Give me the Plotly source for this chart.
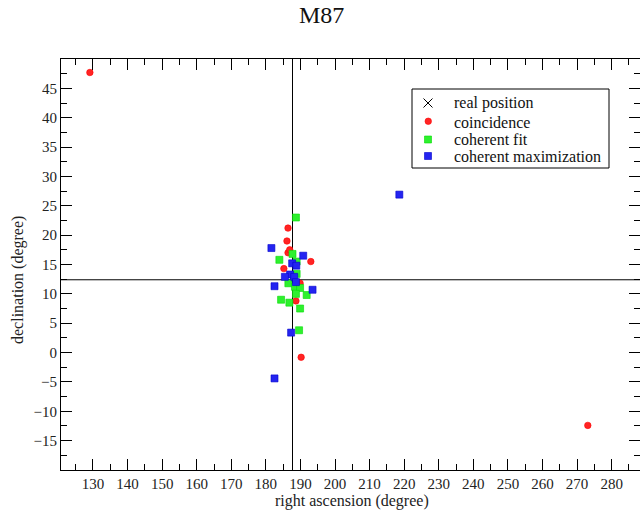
import plotly.graph_objects as go

# Data (degrees)
real_ra = [187.7]
real_dec = [12.4]

coin_ra = [129.1, 186.4, 186.1, 186.4, 186.9, 193.0, 185.2, 189.9, 188.7, 190.2, 273.1]
coin_dec = [47.7, 21.2, 19.0, 17.0, 17.5, 15.5, 14.3, 11.8, 8.8, -0.8, -12.4]

fit_ra = [188.7, 187.7, 183.9, 188.9, 188.9, 186.5, 188.4, 189.9, 188.7, 191.8, 184.4, 186.8, 189.9, 189.6]
fit_dec = [23.0, 16.8, 15.8, 15.5, 13.4, 11.8, 11.2, 11.0, 10.0, 9.8, 9.0, 8.5, 7.5, 3.8]

max_ra = [181.6, 190.8, 187.6, 188.8, 187.0, 185.5, 188.2, 188.7, 182.5, 193.5, 187.3, 182.5, 218.6]
max_dec = [17.8, 16.5, 15.2, 14.8, 13.3, 12.9, 12.9, 12.0, 11.3, 10.7, 3.4, -4.4, 26.9]

x_ticks = list(range(130, 281, 10))
y_ticks = list(range(-15, 46, 5))
legend_labels = ["real position", "coincidence", "coherent fit", "coherent maximization"]

FONT = "Liberation Serif, Times New Roman, serif"
RED, GREEN, BLUE = "#ff2424", "#2ef02e", "#2424f0"

# plot-area geometry (pixels) used for placing the hand-drawn legend
L, R, T, B = 61, 640, 59, 470
def px(xp):
    return (xp - L) / (R - L)
def py(yp):
    return (B - yp) / (B - T)

fig = go.Figure()
fig.add_trace(go.Scatter(x=real_ra, y=real_dec, mode="markers", name=legend_labels[0],
                         marker=dict(symbol="x-thin-open", size=11, color="black",
                                     line=dict(width=1.2, color="black"))))
fig.add_trace(go.Scatter(x=coin_ra, y=coin_dec, mode="markers", name=legend_labels[1],
                         marker=dict(symbol="circle", size=6.5, color=RED,
                                     line=dict(width=0.6, color="#ff0000"))))
fig.add_trace(go.Scatter(x=fit_ra, y=fit_dec, mode="markers", name=legend_labels[2],
                         marker=dict(symbol="square", size=7, color=GREEN,
                                     line=dict(width=0.6, color="#00dd00"))))
fig.add_trace(go.Scatter(x=max_ra, y=max_dec, mode="markers", name=legend_labels[3],
                         marker=dict(symbol="square", size=7, color=BLUE,
                                     line=dict(width=0.6, color="#0000cc"))))

shapes = [
    # crosshair through the real position
    dict(type="line", xref="x", yref="paper", x0=real_ra[0], x1=real_ra[0], y0=0, y1=1,
         line=dict(color="black", width=1), layer="below"),
    dict(type="line", xref="paper", yref="y", x0=0, x1=1, y0=real_dec[0], y1=real_dec[0],
         line=dict(color="black", width=1), layer="below"),
    # legend box
    dict(type="rect", xref="paper", yref="paper", x0=px(412), x1=px(609), y0=py(168), y1=py(89),
         line=dict(color="black", width=1), fillcolor="white", layer="above"),
    # legend symbols
    dict(type="line", xref="paper", yref="paper", x0=px(423.5), x1=px(432.5), y0=py(98.5), y1=py(107.5),
         line=dict(color="black", width=1), layer="above"),
    dict(type="line", xref="paper", yref="paper", x0=px(423.5), x1=px(432.5), y0=py(107.5), y1=py(98.5),
         line=dict(color="black", width=1), layer="above"),
    dict(type="circle", xref="paper", yref="paper", x0=px(425), x1=px(431.5), y0=py(124.5), y1=py(118),
         line=dict(color="#ff0000", width=0.6), fillcolor=RED, layer="above"),
    dict(type="rect", xref="paper", yref="paper", x0=px(424.5), x1=px(431.5), y0=py(143), y1=py(136),
         line=dict(color="#00dd00", width=0.6), fillcolor=GREEN, layer="above"),
    dict(type="rect", xref="paper", yref="paper", x0=px(424.5), x1=px(431.5), y0=py(159.5), y1=py(152.5),
         line=dict(color="#0000cc", width=0.6), fillcolor=BLUE, layer="above"),
]

legend_rows = [103, 122, 139, 156]
annotations = [
    dict(text="right ascension (degree)", xref="paper", yref="paper", x=px(352), y=py(501),
         xanchor="center", yanchor="middle", showarrow=False,
         font=dict(family=FONT, size=16, color="#222")),
    dict(text="declination (degree)", xref="paper", yref="paper", x=px(18), y=py(280),
         xanchor="center", yanchor="middle", textangle=-90, showarrow=False,
         font=dict(family=FONT, size=16, color="#222")),
]
for lab, row in zip(legend_labels, legend_rows):
    annotations.append(dict(text=lab, xref="paper", yref="paper", x=px(452), y=py(row),
                            xanchor="left", yanchor="middle", showarrow=False,
                            font=dict(family=FONT, size=16, color="#111")))

axis_common = dict(showgrid=False, zeroline=False, showline=True, linecolor="black", linewidth=1,
                   mirror="allticks", ticks="inside", ticklen=11, tickwidth=1, tickcolor="black",
                   tickfont=dict(family=FONT, size=15, color="#222"))

fig.update_layout(
    width=640, height=513,
    margin=dict(l=L, r=640 - R, t=T, b=513 - B),
    paper_bgcolor="white", plot_bgcolor="white",
    title=dict(text="M87", x=px(352), xanchor="center", y=1 - 15 / 513, yanchor="middle",
               font=dict(family=FONT, size=24, color="#111")),
    xaxis=dict(range=[120.75, 288.2], tickmode="array", tickvals=x_ticks,
               minor=dict(ticks="inside", ticklen=6, dtick=5, tick0=130, tickcolor="black", showgrid=False),
               **axis_common),
    yaxis=dict(range=[-20, 50], tickmode="array", tickvals=y_ticks,
               minor=dict(ticks="inside", ticklen=6, dtick=2.5, tick0=-15, tickcolor="black", showgrid=False),
               **axis_common),
    showlegend=False,
    shapes=shapes,
    annotations=annotations,
)

fig.write_html("out.html")
